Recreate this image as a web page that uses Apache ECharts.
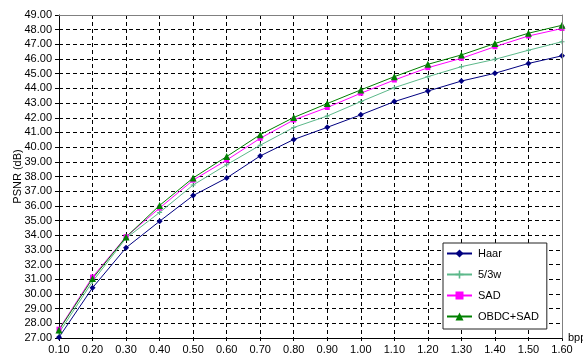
<!DOCTYPE html>
<html>
<head>
<meta charset="utf-8">
<script src="https://cdn.jsdelivr.net/npm/echarts@6/dist/echarts.min.js"></script>
<style>
  html, body { margin: 0; padding: 0; background: #fff; }
  #chart { width: 583px; height: 356px; }
</style>
</head>
<body>
<div id="chart"></div>
<script>
// Bit rate (bpp) categories
var bpp = ['0.10','0.20','0.30','0.40','0.50','0.60','0.70','0.80','0.90','1.00','1.10','1.20','1.30','1.40','1.50','1.60'];

// PSNR (dB) for each transform
var haar = [27.05, 30.42, 33.15, 34.95, 36.70, 37.90, 39.40, 40.52, 41.35, 42.20, 43.10, 43.82, 44.50, 45.03, 45.70, 46.22];
var w53  = [27.35, 30.85, 33.80, 35.55, 37.42, 38.80, 40.13, 41.34, 42.12, 43.10, 44.05, 44.80, 45.48, 45.98, 46.60, 47.18];
var sad  = [27.60, 31.15, 33.90, 35.85, 37.75, 39.12, 40.60, 41.85, 42.70, 43.67, 44.57, 45.41, 46.05, 46.84, 47.57, 48.08];
var obdc = [27.55, 31.05, 33.88, 36.03, 37.90, 39.36, 40.85, 42.02, 42.97, 43.90, 44.80, 45.64, 46.28, 47.06, 47.76, 48.30];

var seriesNames = ['Haar', '5/3w', 'SAD', 'OBDC+SAD'];

var FONT = 'Liberation Sans, Arial, sans-serif';
var dashed = { color: '#000', width: 1, type: [4, 3] };
var plusPath = 'path://M2,0 L3,0 L3,2 L5,2 L5,3 L3,3 L3,5 L2,5 L2,3 L0,3 L0,2 L2,2 Z';

function line(name, data, color, symbol, size) {
  return {
    name: name,
    type: 'line',
    data: data,
    symbol: symbol,
    symbolSize: size,
    showSymbol: true,
    lineStyle: { color: color, width: 1 },
    itemStyle: { color: color, borderWidth: 0 },
    emphasis: { disabled: true },
    animation: false
  };
}

var chart = echarts.init(document.getElementById('chart'), null, { renderer: 'canvas' });
chart.setOption({
  backgroundColor: '#fff',
  animation: false,
  textStyle: { fontFamily: FONT },
  grid: { left: 59, top: 15, right: 21, bottom: 18, show: false, containLabel: false, outerBoundsMode: 'none' },
  legend: {
    orient: 'vertical',
    left: 443,
    top: 243,
    data: seriesNames,
    itemWidth: 25,
    itemHeight: 10,
    itemGap: 10,
    padding: [5, 8, 7, 3],
    borderColor: '#222',
    borderWidth: 1,
    backgroundColor: '#fff',
    textStyle: { fontFamily: FONT, fontSize: 11, color: '#000', padding: [0, 0, 0, 1] }
  },
  xAxis: [{
    type: 'category',
    data: bpp,
    boundaryGap: false,
    name: 'bpp',
    nameLocation: 'end',
    nameGap: 6,
    nameTextStyle: { fontFamily: FONT, fontSize: 11, color: '#000' },
    axisLine: { lineStyle: { color: '#000', width: 1 } },
    axisTick: { show: true, inside: false, length: 3, interval: 0, lineStyle: { color: '#000' } },
    axisLabel: { interval: 0, margin: 6, fontFamily: FONT, fontSize: 11, color: '#000' },
    splitLine: { show: true, interval: 0, lineStyle: dashed }
  }, {
    type: 'category',
    data: bpp,
    boundaryGap: false,
    position: 'top',
    z: 5,
    axisLine: { lineStyle: { color: '#808080', width: 1 } },
    axisTick: { show: false },
    axisLabel: { show: false },
    splitLine: { show: false }
  }],
  yAxis: [{
    type: 'value',
    min: 27,
    max: 49,
    interval: 1,
    name: 'PSNR (dB)',
    nameLocation: 'middle',
    nameGap: 36,
    nameMoveOverlap: false,
    nameRotate: 90,
    nameTextStyle: { fontFamily: FONT, fontSize: 11, color: '#000' },
    axisLine: { show: true, lineStyle: { color: '#000', width: 1 } },
    axisTick: { show: true, length: 4, lineStyle: { color: '#000' } },
    axisLabel: {
      margin: 7, fontFamily: FONT, fontSize: 11, color: '#000',
      formatter: function (v) { return v.toFixed(2); }
    },
    splitLine: { show: true, lineStyle: dashed }
  }, {
    type: 'value',
    min: 27,
    max: 49,
    interval: 1,
    position: 'right',
    z: 5,
    axisLine: { show: true, lineStyle: { color: '#808080', width: 1 } },
    axisTick: { show: false },
    axisLabel: { show: false },
    splitLine: { show: false }
  }],
  series: [
    line('Haar', haar, '#000080', 'diamond', 6),
    line('5/3w', w53, '#5cb88a', plusPath, 5),
    line('SAD', sad, '#ff00ff', 'rect', 5),
    line('OBDC+SAD', obdc, '#008000', 'triangle', 7)
  ]
});
</script>
</body>
</html>
